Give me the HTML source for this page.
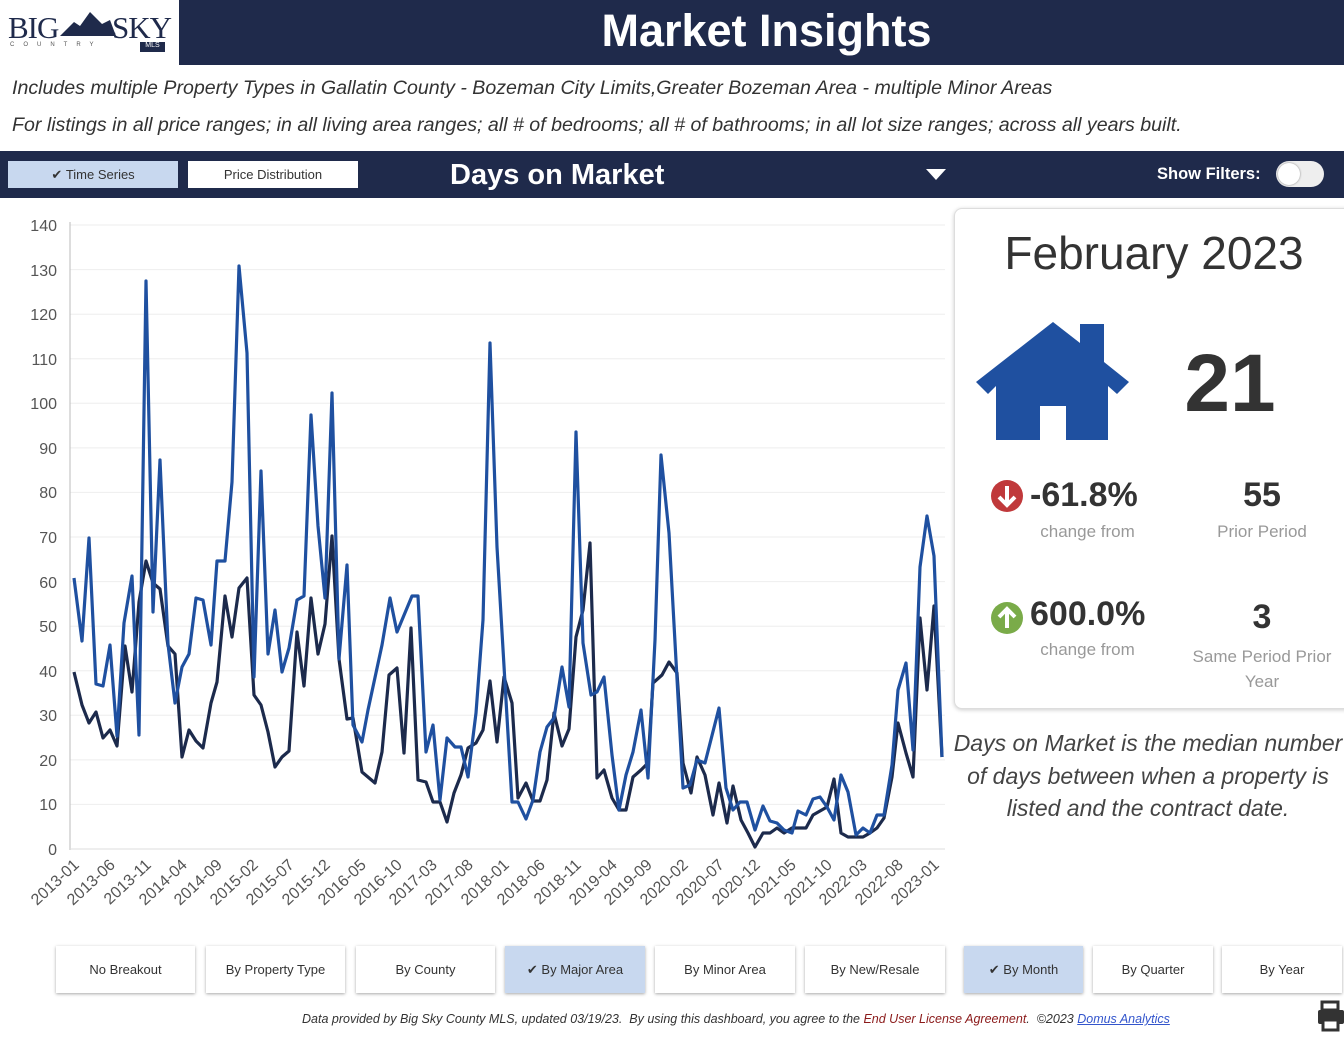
<!DOCTYPE html>
<html><head><meta charset="utf-8"><style>
*{margin:0;padding:0;box-sizing:border-box}
body{width:1344px;height:1039px;background:#fff;position:relative;overflow:hidden;font-family:"Liberation Sans","DejaVu Sans",sans-serif}
.abs{position:absolute}
.btn{position:absolute;top:946px;height:47px;background:#fff;box-shadow:0 1px 3px rgba(0,0,0,.35);font-size:13px;color:#333;display:flex;align-items:center;justify-content:center}
.sel{background:#c8d8ef}
.it{font-style:italic;color:#333}
</style></head><body>
<div class="abs" style="left:179px;top:0;width:1165px;height:65px;background:#1f2a4b"></div>
<div class="abs" style="left:8px;top:10px;font-family:'Liberation Serif',serif;font-size:31px;color:#1f2a4b;letter-spacing:-1px">BIG</div>
<svg class="abs" style="left:60px;top:12px" width="56" height="24"><polygon points="0,24 14,10 20,14 30,0 42,12 50,8 56,24" fill="#1f2a4b"/></svg>
<div class="abs" style="left:112px;top:10px;font-family:'Liberation Serif',serif;font-size:31px;color:#1f2a4b;letter-spacing:-1px">SKY</div>
<div class="abs" style="left:10px;top:42px;font-size:6px;color:#555;letter-spacing:9px">COUNTRY</div>
<div class="abs" style="left:140px;top:42px;width:25px;height:10px;background:#1f2a4b;color:#fff;font-size:7px;text-align:center">MLS</div>
<div class="abs" style="left:179px;top:5px;width:1175px;text-align:center;color:#fff;font-size:45px;font-weight:bold">Market Insights</div>
<div class="abs it" style="left:12px;top:77px;font-size:19.6px">Includes multiple Property Types in Gallatin County - Bozeman City Limits,Greater Bozeman Area - multiple Minor Areas</div>
<div class="abs it" style="left:12px;top:114px;font-size:19.6px">For listings in all price ranges; in all living area ranges; all # of bedrooms; all # of bathrooms; in all lot size ranges; across all years built.</div>
<div class="abs" style="left:0;top:151px;width:1344px;height:47px;background:#1f2a4b"></div>
<div class="abs" style="left:8px;top:161px;width:170px;height:27px;background:#c8d8ef;font-size:13px;color:#333;display:flex;align-items:center;justify-content:center">✔&nbsp;Time Series</div>
<div class="abs" style="left:188px;top:161px;width:170px;height:27px;background:#fff;font-size:13px;color:#333;display:flex;align-items:center;justify-content:center">Price Distribution</div>
<div class="abs" style="left:450px;top:159px;font-size:29px;color:#fff;font-weight:bold">Days on Market</div>
<svg class="abs" style="left:926px;top:169px" width="20" height="12"><polygon points="0,0 20,0 10,11" fill="#fff"/></svg>
<div class="abs" style="left:1157px;top:165px;font-size:16.5px;color:#fff;font-weight:bold">Show Filters:</div>
<div class="abs" style="left:1276px;top:161px;width:48px;height:26px;border-radius:13px;background:#eee"></div>
<div class="abs" style="left:1278px;top:163px;width:22px;height:22px;border-radius:11px;background:#fff;box-shadow:0 0 2px #888"></div>

<svg class="abs" style="left:0;top:200px" width="950" height="740" viewBox="0 200 950 740">
<g stroke="#eeeeee" stroke-width="1">
<line x1="70" x2="945" y1="804.4" y2="804.4"/><line x1="70" x2="945" y1="759.9" y2="759.9"/><line x1="70" x2="945" y1="715.3" y2="715.3"/><line x1="70" x2="945" y1="670.7" y2="670.7"/><line x1="70" x2="945" y1="626.2" y2="626.2"/><line x1="70" x2="945" y1="581.6" y2="581.6"/><line x1="70" x2="945" y1="537" y2="537"/><line x1="70" x2="945" y1="492.4" y2="492.4"/><line x1="70" x2="945" y1="447.9" y2="447.9"/><line x1="70" x2="945" y1="403.3" y2="403.3"/><line x1="70" x2="945" y1="358.7" y2="358.7"/><line x1="70" x2="945" y1="314.2" y2="314.2"/><line x1="70" x2="945" y1="269.6" y2="269.6"/><line x1="70" x2="945" y1="225" y2="225"/>
</g>
<line x1="70" x2="70" y1="222" y2="850" stroke="#bbb"/>
<line x1="70" x2="945" y1="849" y2="849" stroke="#ddd"/>
<g font-size="16" fill="#555" text-anchor="end">
<text x="57" y="855">0</text><text x="57" y="810">10</text><text x="57" y="766">20</text><text x="57" y="721">30</text><text x="57" y="677">40</text><text x="57" y="632">50</text><text x="57" y="588">60</text><text x="57" y="543">70</text><text x="57" y="498">80</text><text x="57" y="454">90</text><text x="57" y="409">100</text><text x="57" y="365">110</text><text x="57" y="320">120</text><text x="57" y="276">130</text><text x="57" y="231">140</text>
</g>
<g font-size="16" fill="#555" text-anchor="end">
<text transform="translate(80,866) rotate(-43)">2013-01</text>
<text transform="translate(116,866) rotate(-43)">2013-06</text>
<text transform="translate(152,866) rotate(-43)">2013-11</text>
<text transform="translate(188,866) rotate(-43)">2014-04</text>
<text transform="translate(223,866) rotate(-43)">2014-09</text>
<text transform="translate(259,866) rotate(-43)">2015-02</text>
<text transform="translate(295,866) rotate(-43)">2015-07</text>
<text transform="translate(331,866) rotate(-43)">2015-12</text>
<text transform="translate(367,866) rotate(-43)">2016-05</text>
<text transform="translate(403,866) rotate(-43)">2016-10</text>
<text transform="translate(438,866) rotate(-43)">2017-03</text>
<text transform="translate(474,866) rotate(-43)">2017-08</text>
<text transform="translate(510,866) rotate(-43)">2018-01</text>
<text transform="translate(546,866) rotate(-43)">2018-06</text>
<text transform="translate(582,866) rotate(-43)">2018-11</text>
<text transform="translate(618,866) rotate(-43)">2019-04</text>
<text transform="translate(653,866) rotate(-43)">2019-09</text>
<text transform="translate(689,866) rotate(-43)">2020-02</text>
<text transform="translate(725,866) rotate(-43)">2020-07</text>
<text transform="translate(761,866) rotate(-43)">2020-12</text>
<text transform="translate(797,866) rotate(-43)">2021-05</text>
<text transform="translate(833,866) rotate(-43)">2021-10</text>
<text transform="translate(868,866) rotate(-43)">2022-03</text>
<text transform="translate(904,866) rotate(-43)">2022-08</text>
<text transform="translate(940,866) rotate(-43)">2023-01</text>
</g>
<polyline fill="none" stroke="#1c2a4c" stroke-width="3.2" stroke-linejoin="round" points="74,672 82,705 89,723 96,712 103,738 110,730 117,746 125,646 132,692 139,602 146,561 153,583 160,589 168,646 175,654 182,757 189,730 196,741 203,748 211,703 217,682 225,596 232,637 239,588 247,578 254,695 261,705 268,732 275,767 282,757 289,751 297,632 304,686 311,598 318,654 325,624 332,536 339,659 347,719 353,718 362,772 375,783 382,752 389,675 397,668 404,753 411,628 418,780 426,782 433,802 440,802 447,822 454,793 461,775 468,748 476,743 483,730 490,681 497,742 504,677 512,703 518,798 526,783 533,801 540,801 547,780 554,713 562,746 569,729 576,637 583,610 590,543 597,778 604,770 612,798 619,810 626,810 633,777 641,770 648,763 653,683 662,675 669,662 677,673 683,763 691,793 697,757 705,775 713,815 719,783 727,823 733,786 741,820 748,833 755,847 763,833 770,833 777,828 784,833 792,828 806,828 813,815 820,811 827,807 834,779 841,833 848,837 863,837 870,833 877,828 884,818 892,777 898,723 906,753 913,777 920,618 927,690 934,606 942,757"/>
<polyline fill="none" stroke="#1f50a0" stroke-width="3.2" stroke-linejoin="round" points="74,578 82,641 89,538 96,684 103,686 110,645 117,736 124,623 132,576 139,735 146,281 153,612 160,460 168,644 175,703 182,667 189,654 196,598 203,600 211,645 217,561 225,561 232,482 239,266 247,353 254,677 261,471 268,654 275,610 282,672 289,648 297,600 304,596 311,415 318,526 325,598 332,393 339,659 347,565 353,725 362,742 368,710 382,645 390,598 397,632 412,596 418,596 426,752 433,725 440,800 447,738 455,747 461,747 468,777 476,713 483,620 490,343 497,547 512,802 518,802 526,819 533,800 540,752 547,727 554,718 562,667 569,707 576,432 583,643 591,695 597,692 604,677 612,755 619,810 626,775 633,752 641,710 648,778 655,640 661,455 669,533 683,788 690,785 697,760 705,763 719,708 726,788 733,810 740,802 747,802 755,830 763,806 770,821 777,823 784,830 792,833 798,811 806,815 813,799 820,797 827,807 834,820 841,775 848,792 856,835 863,828 870,833 877,815 884,815 892,765 898,690 906,663 913,750 920,567 927,516 934,556 942,757"/>
</svg>

<div class="abs" style="left:954px;top:208px;width:400px;height:501px;border:1px solid #ddd;border-radius:8px;box-shadow:0 1px 4px rgba(0,0,0,.2);background:#fff"></div>
<div class="abs" style="left:954px;top:226px;width:400px;text-align:center;font-size:46px;color:#333">February 2023</div>
<svg class="abs" style="left:976px;top:322px" width="154" height="120"><polygon points="77,0 0,60 12,72 20,64 20,118 64,118 64,84 90,84 90,118 132,118 132,64 141,72 153,60 128,40 128,2 104,2 104,21" fill="#1f50a0"/></svg>
<div class="abs" style="left:1160px;top:337px;width:140px;text-align:center;font-size:82px;font-weight:bold;color:#333">21</div>
<svg class="abs" style="left:990px;top:479px" width="34" height="34"><circle cx="17" cy="17" r="16" fill="#c0393b"/><path d="M17 7 V25 M9 18 L17 26 L25 18" stroke="#fff" stroke-width="4" fill="none"/></svg>
<div class="abs" style="left:1030px;top:476px;font-size:34px;font-weight:bold;color:#333">-61.8%</div>
<div class="abs" style="left:1010px;top:522px;width:155px;text-align:center;font-size:17px;color:#999">change from</div>
<div class="abs" style="left:1182px;top:476px;width:160px;text-align:center;font-size:34px;font-weight:bold;color:#333">55</div>
<div class="abs" style="left:1182px;top:522px;width:160px;text-align:center;font-size:17px;color:#999">Prior Period</div>
<svg class="abs" style="left:990px;top:601px" width="34" height="34"><circle cx="17" cy="17" r="16" fill="#7aab49"/><path d="M17 27 V9 M9 16 L17 8 L25 16" stroke="#fff" stroke-width="4" fill="none"/></svg>
<div class="abs" style="left:1030px;top:595px;font-size:34px;font-weight:bold;color:#333">600.0%</div>
<div class="abs" style="left:1010px;top:640px;width:155px;text-align:center;font-size:17px;color:#999">change from</div>
<div class="abs" style="left:1182px;top:598px;width:160px;text-align:center;font-size:34px;font-weight:bold;color:#333">3</div>
<div class="abs" style="left:1182px;top:644px;width:160px;text-align:center;font-size:17px;color:#999;line-height:25px">Same Period Prior<br>Year</div>
<div class="abs it" style="left:950px;top:727px;width:396px;text-align:center;font-size:23px;color:#444;line-height:32.5px">Days on Market is the median number of days between when a property is listed and the contract date.</div>

<div class="btn" style="left:56px;width:139px">No Breakout</div>
<div class="btn" style="left:206px;width:139px">By Property Type</div>
<div class="btn" style="left:356px;width:139px">By County</div>
<div class="btn sel" style="left:505px;width:140px">✔&nbsp;By Major Area</div>
<div class="btn" style="left:655px;width:140px">By Minor Area</div>
<div class="btn" style="left:805px;width:140px">By New/Resale</div>
<div class="btn sel" style="left:964px;width:119px">✔&nbsp;By Month</div>
<div class="btn" style="left:1093px;width:120px">By Quarter</div>
<div class="btn" style="left:1222px;width:120px">By Year</div>
<div class="abs it" style="left:302px;top:1012px;font-size:12.5px;color:#333">Data provided by Big Sky County MLS, updated 03/19/23.&nbsp; By using this dashboard, you agree to the <span style="color:#8b1a1a">End User License Agreement</span>.&nbsp; ©2023 <span style="color:#3355cc;text-decoration:underline">Domus Analytics</span></div>
<svg class="abs" style="left:1316px;top:1000px" width="28" height="32"><rect x="6" y="2" width="16" height="8" fill="none" stroke="#333" stroke-width="3"/><rect x="2" y="10" width="26" height="14" rx="2" fill="#333"/><rect x="7" y="20" width="15" height="10" fill="#fff" stroke="#333" stroke-width="3"/></svg>
</body></html>
